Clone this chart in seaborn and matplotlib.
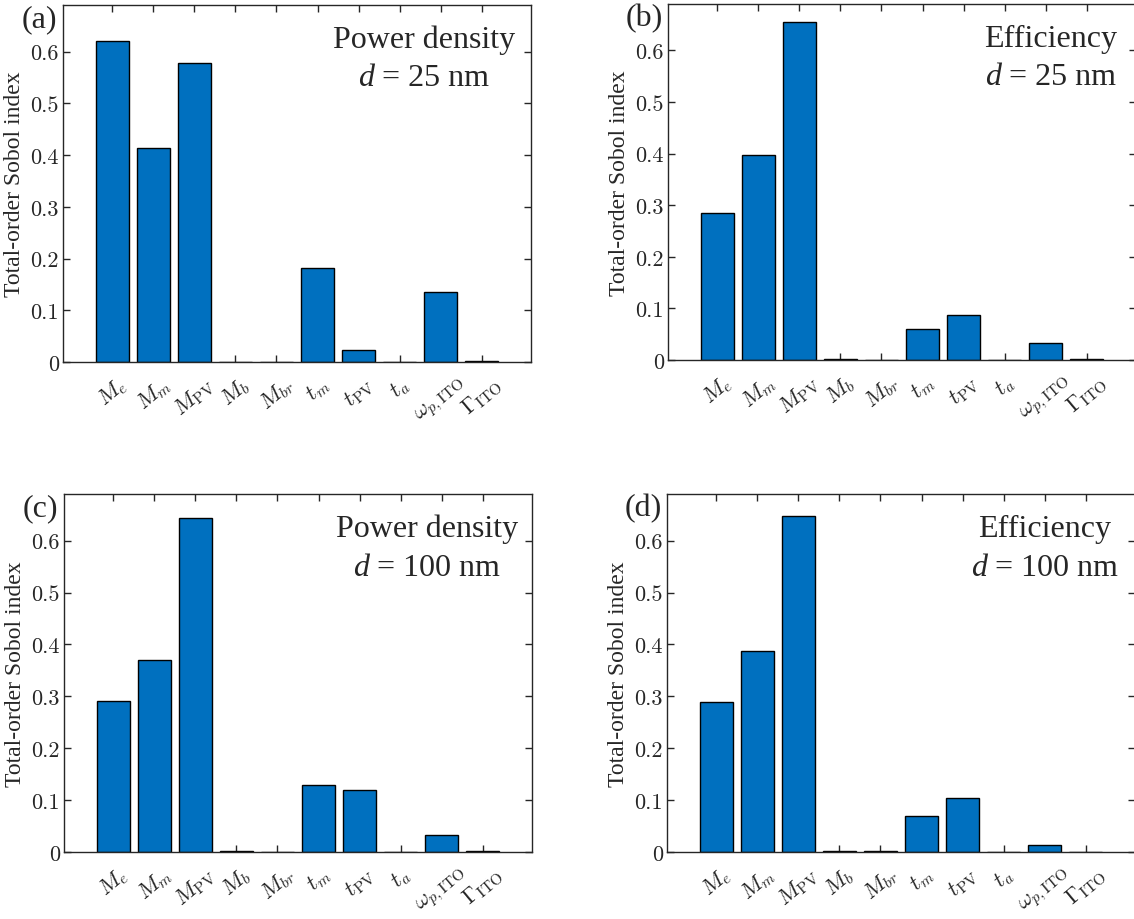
import matplotlib
matplotlib.use("Agg")
import matplotlib.pyplot as plt
import seaborn as sns
import pandas as pd
from matplotlib.offsetbox import TextArea, HPacker, AnnotationBbox

# ---- data ----
params = [r"$M_e$", r"$M_m$", r"$M_{\rm PV}$", r"$M_b$", r"$M_{br}$",
          r"$t_m$", r"$t_{\rm PV}$", r"$t_a$", r"$\omega_{p,\rm ITO}$", r"$\Gamma_{\rm ITO}$"]
power_25 = [0.620, 0.413, 0.577, 0.0, 0.0, 0.182, 0.023, 0.0, 0.135, 0.002]
eff_25 = [0.285, 0.398, 0.655, 0.001, 0.0, 0.061, 0.088, 0.0, 0.032, 0.001]
power_100 = [0.291, 0.371, 0.643, 0.001, 0.0, 0.130, 0.120, 0.0, 0.033, 0.001]
eff_100 = [0.290, 0.388, 0.647, 0.002, 0.001, 0.069, 0.105, 0.0, 0.013, 0.0]
panel_tags = ["(a)", "(b)", "(c)", "(d)"]
metric_names = ["Power density", "Efficiency", "Power density", "Efficiency"]
thickness = ["25", "25", "100", "100"]
ytick_vals = [0, 0.1, 0.2, 0.3, 0.4, 0.5, 0.6]
ytick_labels = ["0", "0.1", "0.2", "0.3", "0.4", "0.5", "0.6"]
ylabel = "Total-order Sobol index"

sns.set_style("ticks")
plt.rcParams["font.family"] = ["Liberation Serif", "DejaVu Serif"]
plt.rcParams["mathtext.fontset"] = "cm"

BLUE = "#0070BF"
AXC = "#262626"
W, H = 1134, 920
fig = plt.figure(figsize=(W / 100, H / 100), dpi=100)

rects = [(63, 6, 531, 363), (668, 5, 1136, 361), (64, 495, 532, 853), (667, 495, 1135, 853)]
text_x = [0.771, 0.818, 0.775, 0.806]
series = [power_25, eff_25, power_100, eff_100]

for i in range(4):
    l, t, r, b = rects[i]
    ax = fig.add_axes([l / W, 1 - b / H, (r - l) / W, (b - t) / H])
    df = pd.DataFrame({"param": params, "value": series[i]})
    sns.barplot(data=df, x="param", y="value", ax=ax, color=BLUE, saturation=1,
                edgecolor="black", linewidth=1.0, width=0.8, order=params)
    ax.set_xlim(-1.2, 10.2)
    ax.set_ylim(0, 0.69)
    ax.set_yticks(ytick_vals)
    ax.set_yticklabels(ytick_labels, fontfamily="cmr10", fontsize=16)
    ax.set_xticks(range(len(params)))
    ax.set_xticklabels(params, rotation=40, ha="center", va="top", fontsize=16)
    ax.set_xlabel("")
    ax.set_ylabel(ylabel, fontsize=17, labelpad=4)
    ax.tick_params(direction="in", top=True, right=True, length=5, width=1, color=AXC)
    ax.tick_params(axis="x", pad=8)
    ax.tick_params(axis="y", pad=3)
    for sp in ax.spines.values():
        sp.set_visible(True)
        sp.set_linewidth(1.0)
        sp.set_color(AXC)
    ax.text(-0.012, 0.94, panel_tags[i], transform=ax.transAxes, ha="right",
            va="baseline", fontsize=23)
    ax.text(text_x[i], 0.883, metric_names[i], transform=ax.transAxes, ha="center",
            va="baseline", fontsize=23)
    tp = dict(fontsize=23, family="Liberation Serif")
    ta1 = TextArea("d", textprops=dict(tp, fontstyle="italic"))
    ta2 = TextArea(" = " + thickness[i] + " nm", textprops=tp)
    box = HPacker(children=[ta1, ta2], align="baseline", pad=0, sep=0)
    ab = AnnotationBbox(box, (text_x[i], 0.755), xycoords="axes fraction",
                        box_alignment=(0.5, 0.0), frameon=False, pad=0)
    ax.add_artist(ab)

fig.savefig("out.png", dpi=100)
